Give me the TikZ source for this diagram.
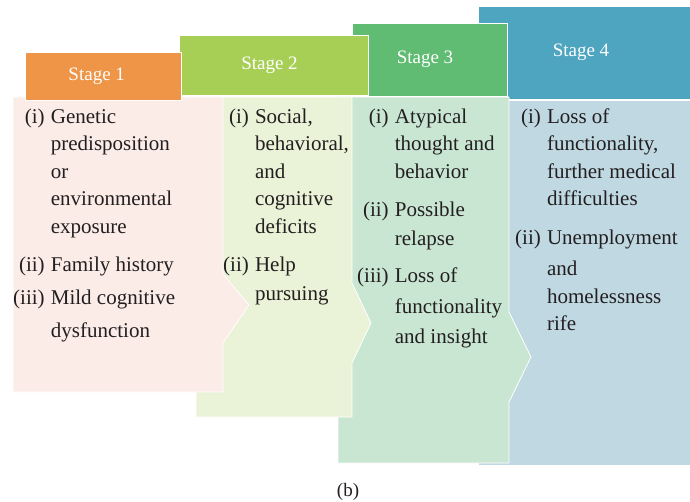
\documentclass[tikz,border=0pt]{standalone}
\usepackage{fontspec}
\setmainfont{Liberation Serif}
\usepackage{tikz}
\usetikzlibrary{backgrounds, matrix, positioning}

\definecolor{ink}{HTML}{231F20}
\definecolor{hdrone}{HTML}{EE9548}
\definecolor{hdrtwo}{HTML}{A8CF55}
\definecolor{hdrthree}{HTML}{5FBC72}
\definecolor{hdrfour}{HTML}{4EA5BF}
\definecolor{bodyone}{HTML}{FBECE7}
\definecolor{bodytwo}{HTML}{EAF2D8}
\definecolor{bodythree}{HTML}{C8E6D1}
\definecolor{bodyfour}{HTML}{BFD8E2}

\tikzset{
  stagehdr/.style={draw=white, line width=0.8pt, inner sep=0pt},
  stagebody/.style={draw=white, line width=0.8pt},
  stagelbl/.style={text=white, font=\fontsize{19}{23}\selectfont},
  itemlist/.style={matrix of nodes, anchor=north west, inner sep=0pt,
         row sep=6.5pt, column sep=6pt,
         nodes={inner sep=0pt, text height=15pt, text depth=6pt, text=ink,
                font=\fontsize{21}{25}\selectfont},
         column 1/.style={anchor=base east},
         column 2/.style={anchor=base west}}
}

\begin{document}
\begin{tikzpicture}[x=1pt, y=-1pt]
\useasboundingbox (0,0) rectangle (690,502);
\fill[white] (0,0) rectangle (690,502);
%
% stage 4
\filldraw[stagebody, fill=bodyfour] (478,100) -- (690,100) -- (690,465) -- (478,465) -- cycle;
\node[stagehdr, fill=hdrfour, minimum width=212pt, minimum height=93pt] (hdr4) at (584,52.5) {};
% stage 3
\filldraw[stagebody, fill=bodythree] (338,97) -- (509,97) -- (509,312) -- (531,357)
   -- (509,402) -- (509,463) -- (338,463) -- cycle;
\node[stagehdr, fill=hdrthree, minimum width=155pt, minimum height=73pt] (hdr3) at (429.5,59.5) {};
% stage 2
\filldraw[stagebody, fill=bodytwo] (196,97) -- (352,97) -- (352,283) -- (371,323)
   -- (352,363) -- (352,417) -- (196,417) -- cycle;
\node[stagehdr, fill=hdrtwo, minimum width=189pt, minimum height=60.5pt] (hdr2) at (273.5,65.25) {};
% stage 1
\filldraw[stagebody, fill=bodyone] (13,97) -- (223,97) -- (223,274) -- (249,305)
   -- (223,343) -- (223,392) -- (13,392) -- cycle;
\node[stagehdr, fill=hdrone, minimum width=156pt, minimum height=48pt] (hdr1) at (103.7,76.7) {};
%
\node[stagelbl] (lbl1) at ([xshift=-7pt]hdr1.center) {Stage 1};
\node[stagelbl] (lbl2) at ([xshift=-4pt]hdr2.center) {Stage 2};
\node[stagelbl] (lbl3) at ([xshift=-4.5pt]hdr3.center) {Stage 3};
\node[stagelbl] (lbl4) at ([xshift=-3pt]hdr4.center) {Stage 4};
%
\matrix[itemlist] (items1) at (13,108)
{
(i)   & Genetic \\
      & predisposition \\
      & or \\
      & environmental \\
      & exposure \\[10.5pt]
(ii)  & Family history \\[5.5pt]
(iii) & Mild cognitive \\[5.5pt]
      & dysfunction \\
};
%
\matrix[itemlist] (items2) at (223,108)
{
(i)   & Social, \\
      & behavioral, \\
      & and \\
      & cognitive \\
      & deficits \\[10.5pt]
(ii)  & Help \\[1.5pt]
      & pursuing \\
};
%
\matrix[itemlist] (items3) at (357,108)
{
(i)   & Atypical \\
      & thought and \\
      & behavior \\[10.5pt]
(ii)  & Possible \\[1.5pt]
      & relapse \\[9.5pt]
(iii) & Loss of \\[3.5pt]
      & functionality \\[2.5pt]
      & and insight \\
};
%
\matrix[itemlist] (items4) at (515,108)
{
(i)   & Loss of \\
      & functionality, \\
      & further medical \\
      & difficulties \\[11.5pt]
(ii)  & Unemployment \\[3.5pt]
      & and \\
      & homelessness \\
      & rife \\
};
%
\node[text=ink, font=\fontsize{19}{23}\selectfont] (cap) at (348,492) {(b)};
\end{tikzpicture}
\end{document}
